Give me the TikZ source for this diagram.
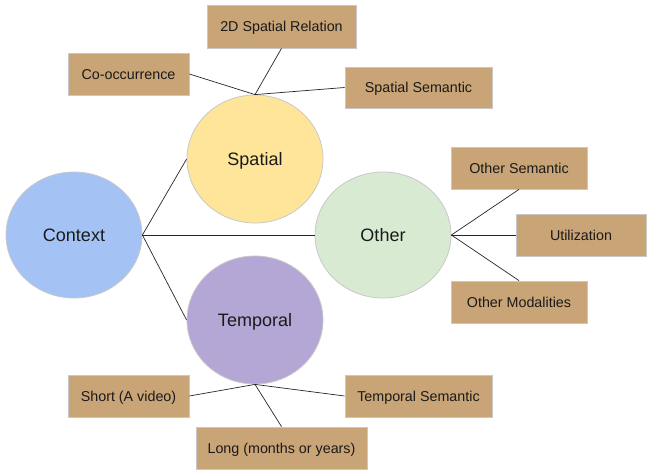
\documentclass[tikz,border=0pt]{standalone}
\usepackage{fontspec}
\setmainfont{Liberation Sans}
\usetikzlibrary{shapes.geometric}
\definecolor{ctxblue}{HTML}{A4C2F4}
\definecolor{spyellow}{HTML}{FFE599}
\definecolor{othgreen}{HTML}{D9EAD3}
\definecolor{tmppurple}{HTML}{B4A7D6}
\definecolor{boxtan}{RGB}{201,164,118}
\definecolor{edgegray}{HTML}{C8C8C8}
\definecolor{txt}{HTML}{1A1A1A}
\begin{document}
\begin{tikzpicture}[x=1pt,y=-1pt,
  bubble/.style={ellipse,draw=edgegray,line width=0.8pt,minimum width=136pt,minimum height=126pt,inner sep=0pt,text=txt,text height=15pt,text depth=2.1pt,font=\fontsize{18}{20}\selectfont},
  leaf/.style={rectangle,draw=edgegray,fill=boxtan,line width=0.8pt,inner sep=0pt,text=txt,text height=12pt,text depth=1.8pt,font=\fontsize{14.3}{16}\selectfont},
  link/.style={draw=black!85,line width=0.7pt}]
\useasboundingbox (0,0) rectangle (648,469);
% circles
\node[bubble,fill=ctxblue] (ctx) at (74,235) {Context};
\node[bubble,fill=spyellow,minimum height=128pt] (sp) at (255,159) {Spatial};
\node[bubble,fill=othgreen] (oth) at (383,235) {Other};
\node[bubble,fill=tmppurple,minimum height=128pt] (tmp) at (255,320) {Temporal};
% boxes
\node[leaf,minimum width=149pt,minimum height=43pt] (rel) at (281.5,26.5) {2D Spatial Relation};
\node[leaf,minimum width=121pt,minimum height=42pt] (cooc) at (128.5,74) {Co-occurrence};
\node[leaf,minimum width=147pt,minimum height=41pt] (ssem) at (418.5,87.5) {Spatial Semantic};
\node[leaf,minimum width=136pt,minimum height=42pt] (osem) at (519,168) {Other Semantic};
\node[leaf,minimum width=130pt,minimum height=42pt] (util) at (581,235) {Utilization};
\node[leaf,minimum width=136pt,minimum height=42pt] (omod) at (519,302) {Other Modalities};
\node[leaf,minimum width=121pt,minimum height=42pt] (short) at (128.5,396) {Short (A video)};
\node[leaf,minimum width=147pt,minimum height=42pt] (tsem) at (418.5,396) {Temporal Semantic};
\node[leaf,minimum width=171pt,minimum height=42pt] (long) at (281.5,448) {Long (months or years)};
% connectors
\draw[link] (ctx.east) -- (sp.west);
\draw[link] (ctx.east) -- (oth.west);
\draw[link] (ctx.east) -- (tmp.west);
\draw[link] (sp.north) -- (cooc.east);
\draw[link] (sp.north) -- (rel.south);
\draw[link] (sp.north) -- (ssem.west);
\draw[link] (oth.east) -- (osem.south);
\draw[link] (oth.east) -- (util.west);
\draw[link] (oth.east) -- (omod.north);
\draw[link] (tmp.south) -- (short.east);
\draw[link] (tmp.south) -- (tsem.west);
\draw[link] (tmp.south) -- (long.north);
\end{tikzpicture}
\end{document}
